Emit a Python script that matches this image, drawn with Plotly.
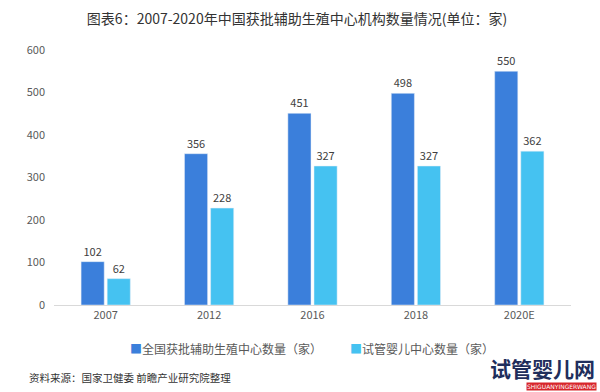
import plotly.graph_objects as go

categories = ["2007", "2012", "2016", "2018", "2020E"]
approved_centers = [102, 356, 451, 498, 550]
ivf_centers = [62, 228, 327, 327, 362]
y_ticks = [0, 100, 200, 300, 400, 500, 600]

series_names = ["全国获批辅助生殖中心数量（家）", "试管婴儿中心数量（家）"]
colors = ["#3B7FDB", "#45C2F1"]

font_family = "Noto Sans CJK SC, Noto Sans, sans-serif"

fig = go.Figure()
for name, vals, col in zip(series_names, [approved_centers, ivf_centers], colors):
    fig.add_trace(go.Bar(
        x=categories, y=vals, name=name,
        marker=dict(color=col),
        text=vals, textposition="outside",
        textfont=dict(size=11, color="#404040"), cliponaxis=False,
    ))

PW, PH = 517, 255
fig.update_layout(
    width=600, height=392,
    paper_bgcolor="white", plot_bgcolor="white",
    font=dict(family=font_family, color="#595959", size=11),
    margin=dict(l=54, r=29, t=50, b=87),
    barmode="group", bargap=0.495, bargroupgap=0.115,
    showlegend=False,
    title=dict(text="图表6：2007-2020年中国获批辅助生殖中心机构数量情况(单位：家)",
               x=0.495, xanchor="center", y=1 - 19 / 392, yanchor="middle",
               font=dict(size=14, color="#333333")),
    xaxis=dict(showline=True, linecolor="#D9D9D9", linewidth=1, ticks="",
               tickfont=dict(size=11, color="#595959"), showgrid=False),
    yaxis=dict(range=[0, 600], tickvals=y_ticks, showgrid=False, zeroline=False,
               showline=False, tickfont=dict(size=11, color="#595959"), ticklabelstandoff=8),
)

# manual legend
legend_items = [(128, series_names[0], colors[0]), (348, series_names[1], colors[1])]
for px, name, col in legend_items:
    fig.add_annotation(
        text=f"<span style='color:{col}'>■</span>{name}",
        xref="paper", yref="paper", x=(px - 54) / PW, xanchor="left",
        y=-(348 - 305) / PH, yanchor="middle", showarrow=False,
        font=dict(size=12, color="#595959"))

fig.add_annotation(text="资料来源：国家卫健委 前瞻产业研究院整理", xref="paper", yref="paper",
                   x=(27 - 54) / PW, xanchor="left", y=-(378 - 305) / PH, yanchor="middle",
                   showarrow=False, font=dict(size=10.5, color="#333333"))
fig.add_annotation(text="<b>试管婴儿网</b>", xref="paper", yref="paper",
                   x=(597 - 54) / PW, xanchor="right", y=-(368 - 305) / PH, yanchor="middle",
                   showarrow=False,
                   font=dict(size=21, color="#1F2E5C", family="Noto Sans CJK SC"))
fig.add_annotation(text="SHIGUANYINGERWANG", xref="paper", yref="paper",
                   x=(597 - 54) / PW, xanchor="right", y=-(386 - 305) / PH, yanchor="middle",
                   showarrow=False, bgcolor="#D7262B", borderpad=0,
                   font=dict(size=6, color="white", family="DejaVu Sans"))

fig.write_html("out.html", config={"displayModeBar": False},
               post_script="document.body.style.margin='0';")
